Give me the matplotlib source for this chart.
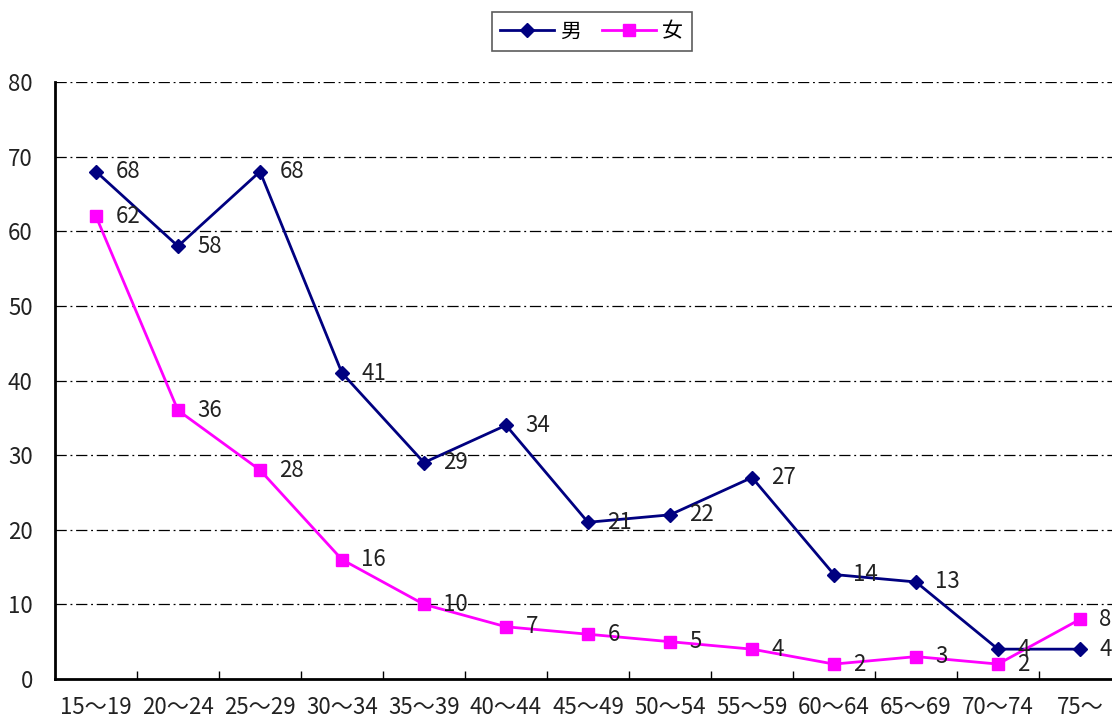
import matplotlib.pyplot as plt
import numpy as np

plt.rcParams['font.family'] = ['Noto Sans CJK JP', 'DejaVu Sans']

ages = ['15～19', '20～24', '25～29', '30～34', '35～39', '40～44', '45～49',
        '50～54', '55～59', '60～64', '65～69', '70～74', '75～']
male = [68, 58, 68, 41, 29, 34, 21, 22, 27, 14, 13, 4, 4]
female = [62, 36, 28, 16, 10, 7, 6, 5, 4, 2, 3, 2, 8]

fig = plt.figure(figsize=(11.12, 7.2), dpi=100)
# plot area runs a little past the right edge of the figure
ax = fig.add_axes([55 / 1112, 1 - 679 / 720, 1066 / 1112, 597 / 720])

x = np.arange(len(ages))
ax.plot(x, male, '-D', color='#000080', lw=2, ms=7, label='男', zorder=3)
ax.plot(x, female, '-s', color='#FF00FF', lw=2, ms=9, label='女', zorder=3)

for xs, ys in ((x, male), (x, female)):
    for xi, yi in zip(xs, ys):
        ax.annotate(str(yi), (xi, yi), xytext=(14, 0), textcoords='offset points',
                    va='center', ha='left', fontsize=16, color='#222222', zorder=4)

ax.set_xlim(-0.5, len(ages) - 0.5)
ax.set_ylim(0, 80)
ax.set_yticks(np.arange(0, 81, 10))
ax.set_xticks(x)
ax.set_xticklabels(ages)
ax.set_xticks(np.arange(0.5, len(ages) - 0.5, 1), minor=True)
ax.tick_params(axis='x', which='major', length=0, pad=12, labelsize=16,
               labelcolor='#222222')
ax.tick_params(axis='x', which='minor', direction='in', length=6, width=1)
ax.tick_params(axis='y', length=0, pad=16, labelsize=16, labelcolor='#222222')

for v in range(10, 81, 10):
    ax.axhline(v, color='black', lw=0.9, ls=(0, (9, 3, 1.5, 3)), zorder=1)

for s in ('top', 'right'):
    ax.spines[s].set_visible(False)
for s in ('left', 'bottom'):
    ax.spines[s].set_linewidth(2)

leg = fig.legend(loc='upper center', bbox_to_anchor=(0.532, 0.983), ncol=2,
                 fontsize=15, frameon=True, fancybox=False, edgecolor='#333333',
                 handlelength=2.6, columnspacing=1.0, handletextpad=0.3,
                 borderpad=0.4, borderaxespad=0)
leg.get_frame().set_linewidth(1.2)

plt.savefig('out.png', dpi=100)
